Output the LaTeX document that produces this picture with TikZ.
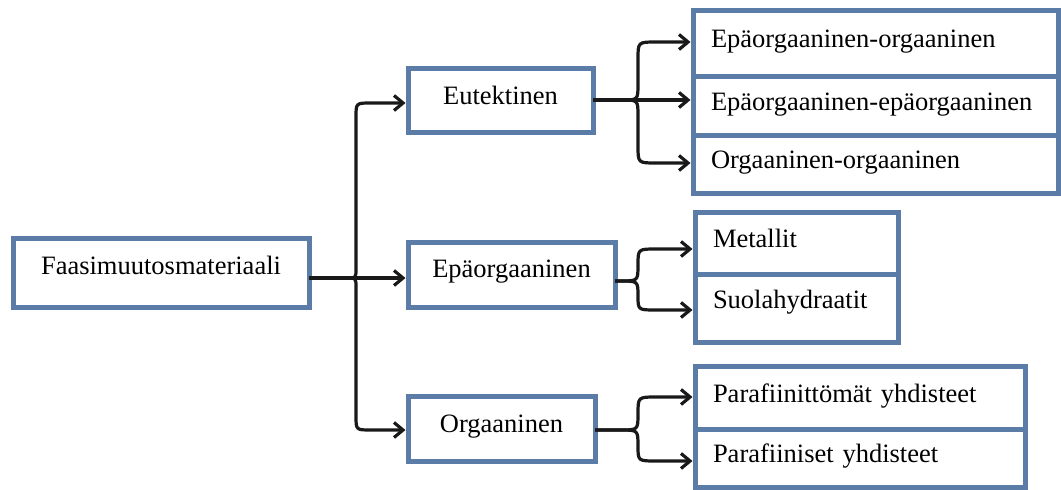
\documentclass[tikz,border=0pt]{standalone}
\usepackage{fontspec}
\setmainfont{Liberation Serif}
\usetikzlibrary{arrows.meta}
\definecolor{boxblue}{RGB}{90,124,166}
\definecolor{linecol}{RGB}{25,25,25}
\tikzset{
  basebox/.style={draw=boxblue, line width=5pt, rectangle, inner ysep=0pt, outer sep=0pt,
    anchor=north west, font=\fontsize{26.5}{30}\selectfont},
  cbox/.style={basebox, inner xsep=0pt, align=center},
  lbox/.style={basebox, inner xsep=18pt, align=left},
  conn/.style={draw=linecol, line width=3.2pt, line join=round,
    -{Straight Barb[length=9pt,width=15pt]}, shorten >=2.5pt},
}
\begin{document}
\begin{tikzpicture}[x=1pt,y=-1pt]
\useasboundingbox[fill=white] (0,0) rectangle (1061,490);
% left column
\node[cbox, text width=296pt, text height=36pt, text depth=33pt] (faasi) at (13,238) {Faasimuutosmateriaali};
% middle column
\node[cbox, text width=185pt, text height=36pt, text depth=28pt] (eut) at (408,68) {Eutektinen};
\node[cbox, text width=207pt, text height=35pt, text depth=30pt] (epa) at (408,242) {Epäorgaaninen};
\node[cbox, text width=187pt, text height=36pt, text depth=29pt] (org) at (408,396) {Orgaaninen};
% right column
\node[lbox, text width=329pt, text height=37pt, text depth=29pt] (r1a) at (693,10) {Epäorgaaninen-orgaaninen};
\node[lbox, text width=329pt, text height=34pt, text depth=25pt] (r1b) at (693,76) {Epäorgaaninen-epäorgaaninen};
\node[lbox, text width=329pt, text height=33pt, text depth=25pt] (r1c) at (693,135) {Orgaaninen-orgaaninen};
\node[lbox, text width=167pt, text height=35pt, text depth=27pt] (r2a) at (695,212) {Metallit};
\node[lbox, text width=167pt, text height=34pt, text depth=34pt] (r2b) at (695,274) {Suolahydraatit};
\node[lbox, text width=294pt, text height=36pt, text depth=27pt] (r3a) at (695,366) {Parafiinittömät yhdisteet};
\node[lbox, text width=294pt, text height=33pt, text depth=25pt] (r3b) at (695,429) {Parafiiniset yhdisteet};
% reference coordinates
\coordinate (t0) at (348,278);
\coordinate (y0a) at (0,103);
\coordinate (y0c) at (0,430);
\coordinate (t1) at (622,100);
\coordinate (y1a) at (0,42);
\coordinate (y1c) at (0,163);
\coordinate (t2) at (620,281);
\coordinate (y2a) at (0,249);
\coordinate (y2b) at (0,310);
\coordinate (t3) at (620,430);
\coordinate (y3a) at (0,397);
\coordinate (y3b) at (0,461);
% main brace
\draw[conn] (faasi.east |- t0) -- (epa.west |- t0);
\draw[conn] (faasi.east |- t0) -- (t0) .. controls (356,278) .. (356,268) -- (356,117)
  .. controls (356,103) .. (371,103) -- (eut.west |- y0a);
\draw[conn] (faasi.east |- t0) -- (t0) .. controls (356,278) .. (356,288) -- (356,416)
  .. controls (356,430) .. (371,430) -- (org.west |- y0c);
% brace 1
\draw[conn] (eut.east |- t1) -- (r1b.west |- t1);
\draw[conn] (eut.east |- t1) -- (t1) .. controls (638,100) .. (638,84) -- (638,59)
  .. controls (638,42) .. (656,42) -- (r1a.west |- y1a);
\draw[conn] (eut.east |- t1) -- (t1) .. controls (638,100) .. (638,116) -- (638,146)
  .. controls (638,163) .. (656,163) -- (r1c.west |- y1c);
% brace 2
\draw[conn] (epa.east |- t2) -- (t2) .. controls (638,281) .. (638,265)
  .. controls (638,249) .. (656,249) -- (r2a.west |- y2a);
\draw[conn] (epa.east |- t2) -- (t2) .. controls (638,281) .. (638,296)
  .. controls (638,310) .. (656,310) -- (r2b.west |- y2b);
% brace 3
\draw[conn] (org.east |- t3) -- (t3) .. controls (638,430) .. (638,414)
  .. controls (638,397) .. (656,397) -- (r3a.west |- y3a);
\draw[conn] (org.east |- t3) -- (t3) .. controls (638,430) .. (638,446)
  .. controls (638,461) .. (656,461) -- (r3b.west |- y3b);
\end{tikzpicture}
\end{document}
